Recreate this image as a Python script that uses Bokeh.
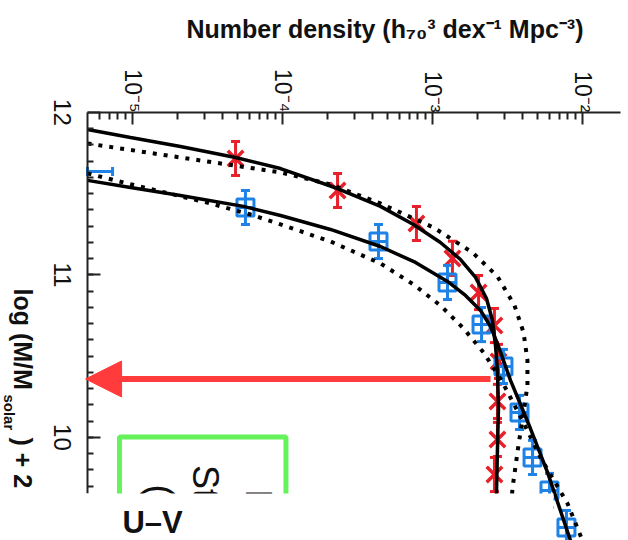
import math
import numpy as np
from bokeh.plotting import figure
from bokeh.models import (Range1d, FixedTicker, CustomJSTickFormatter, BoxAnnotation,
                          Label, Arrow, NormalHead)
from bokeh.embed import file_html
from bokeh.resources import INLINE

# ---------------- data (log10 number density, log stellar mass) ----------------
red_mass   = [11.717, 11.520, 11.317, 11.102, 10.892, 10.689, 10.468, 10.222, 9.988, 9.772]
red_logphi = [-4.313, -3.633, -3.107, -2.867, -2.693, -2.587, -2.560, -2.567, -2.567, -2.587]
red_err    = [0.105, 0.105, 0.105, 0.105, 0.105, 0.105, 0.105, 0.105, 0.105, 0.105]

blue_mass   = [11.415, 11.206, 10.954, 10.695, 10.437, 10.154, 9.877, 9.674, 9.446]
blue_logphi = [-4.247, -3.360, -2.900, -2.673, -2.527, -2.420, -2.333, -2.220, -2.107]
blue_err    = [0.105, 0.105, 0.105, 0.105, 0.105, 0.105, 0.105, 0.105, 0.105]

# blue bin with only a horizontal (density) error bar visible at the left edge
blue_edge_mass = [11.637]
blue_edge_lo   = [-5.300]
blue_edge_hi   = [-5.133]

# fitted curves (solid)
red_fit_mass   = [11.895, 11.846, 11.791, 11.723, 11.655, 11.532, 11.422, 11.311, 11.200,
                  11.095, 10.985, 10.855, 10.720, 10.566, 10.412, 10.185, 9.920, 9.674, 9.335]
red_fit_logphi = [-5.300, -5.013, -4.680, -4.313, -4.013, -3.633, -3.347, -3.127, -2.947,
                  -2.813, -2.713, -2.640, -2.600, -2.580, -2.567, -2.560, -2.567, -2.573, -2.580]

blue_fit_mass   = [11.582, 11.538, 11.489, 11.422, 11.366, 11.280, 11.175, 11.077, 10.960,
                   10.874, 10.782, 10.683, 10.578, 10.474, 10.351, 10.203, 10.055, 9.785, 9.366]
blue_fit_logphi = [-5.300, -5.013, -4.680, -4.260, -4.013, -3.680, -3.347, -3.113, -2.900,
                   -2.780, -2.680, -2.613, -2.567, -2.527, -2.480, -2.413, -2.347, -2.233, -2.080]

# comparison curves (dotted)
red_dot_mass   = [11.809, 11.723, 11.631, 11.557, 11.440, 11.292, 11.138, 10.991, 10.812,
                  10.646, 10.474, 10.320, 10.154, 9.951, 9.686, 9.335]
red_dot_logphi = [-5.300, -4.680, -4.013, -3.680, -3.347, -2.993, -2.733, -2.567, -2.453,
                  -2.393, -2.367, -2.367, -2.393, -2.427, -2.467, -2.493]

blue_dot_mass   = [11.625, 11.563, 11.514, 11.440, 11.372, 11.311, 11.206, 11.071, 10.942,
                   10.812, 10.671, 10.523, 10.363, 10.117, 9.877, 9.594, 9.366]
blue_dot_logphi = [-5.300, -5.033, -4.813, -4.480, -4.213, -4.013, -3.680, -3.347, -3.127,
                   -2.947, -2.793, -2.660, -2.547, -2.407, -2.280, -2.100, -2.000]

x_ticks = [1e-5, 1e-4, 1e-3, 1e-2]
y_ticks = [10, 11, 12]
y_tick_labels = ["10", "11", "12"]

RED = "#e8202a"
BLUE = "#1e82e6"
ARROW_RED = "#ff3b3b"
GREEN = "#66f25a"
INK = "#111111"

def dens(a):
    return np.power(10.0, np.asarray(a, dtype=float))

X_LO, X_HI = 10 ** -5.30, 10 ** -1.747   # extent of the top axis
Y_LO, Y_HI = 9.655, 12.0                 # extent of the left axis

# frame fills the page; axes are pinned at fixed data locations
p = figure(width=628, height=540, x_axis_type="log", x_axis_location="above",
           x_range=Range1d(10 ** -5.88, 10 ** -1.6933), y_range=Range1d(9.366, 12.689),
           output_backend="svg", toolbar_location=None,
           min_border_left=0, min_border_right=0, min_border_top=0, min_border_bottom=0)
p.outline_line_color = None
p.xgrid.visible = False
p.ygrid.visible = False
p.background_fill_color = "white"
p.border_fill_color = "white"

# ---- axes ----
xa = p.xaxis[0]
xa.fixed_location = Y_HI
xa.bounds = (X_LO, X_HI)
minor_x = [k * 10.0 ** e for e in range(-6, -1) for k in range(2, 10)]
minor_x = [v for v in minor_x if X_LO <= v <= X_HI]
xa.ticker = FixedTicker(ticks=x_ticks, minor_ticks=minor_x)
xa.formatter = CustomJSTickFormatter(code=r"""
const e = Math.round(Math.log10(tick));
const m = {"-": "\u207b", "0": "\u2070", "1": "\u00b9", "2": "\u00b2", "3": "\u00b3",
           "4": "\u2074", "5": "\u2075", "6": "\u2076", "7": "\u2077", "8": "\u2078", "9": "\u2079"};
let s = "";
for (const c of String(e)) { s += m[c]; }
return "10" + s;
""")
xa.major_label_orientation = -math.pi / 2
xa.major_tick_in = 12
xa.major_tick_out = 0
xa.minor_tick_in = 7
xa.minor_tick_out = 0
xa.major_label_standoff = 0
xa.major_label_text_font = "Liberation Sans"
xa.major_label_text_font_size = "23px"
xa.major_label_text_color = INK

ya = p.yaxis[0]
ya.fixed_location = X_LO
ya.bounds = (Y_LO, Y_HI)
ya.ticker = FixedTicker(ticks=y_ticks, minor_ticks=[round(9.7 + 0.1 * i, 1) for i in range(23)])
# the rotated tick labels are drawn below as labels centred on their ticks
ya.major_label_overrides = {t: "" for t in y_ticks}
ya.major_tick_in = 13
ya.major_tick_out = 0
ya.minor_tick_in = 6
ya.minor_tick_out = 0

for ax in (xa, ya):
    ax.axis_line_width = 2
    ax.axis_line_color = "#222222"
    ax.major_tick_line_width = 2
    ax.minor_tick_line_width = 2
    ax.major_tick_line_color = "#222222"
    ax.minor_tick_line_color = "#222222"

for t, s in zip(y_ticks, y_tick_labels):
    p.add_layout(Label(x=10 ** -5.469, y=t, text=s, angle=-math.pi / 2,
                       text_font="Liberation Sans", text_font_size="24px",
                       text_color=INK, text_align="center", text_baseline="alphabetic"))

# ---- data points ----
rx = dens(red_logphi)
rm = np.asarray(red_mass)
re = np.asarray(red_err)
p.segment(x0=rx, y0=rm - re, x1=rx, y1=rm + re, line_color=RED, line_width=3)
p.scatter(rx, rm - re, marker="dash", size=9, line_color=RED, line_width=3)
p.scatter(rx, rm + re, marker="dash", size=9, line_color=RED, line_width=3)
p.scatter(rx, rm, marker="x", size=22, line_color=RED, line_width=3.5)

bx = dens(blue_logphi)
bm = np.asarray(blue_mass)
be = np.asarray(blue_err)
p.segment(x0=bx, y0=bm - be, x1=bx, y1=bm + be, line_color=BLUE, line_width=3)
p.scatter(bx, bm - be, marker="dash", size=9, line_color=BLUE, line_width=3)
p.scatter(bx, bm + be, marker="dash", size=9, line_color=BLUE, line_width=3)
p.scatter(bx, bm, marker="square_cross", size=17, line_color=BLUE, line_width=3,
          fill_color=None)

p.segment(x0=dens(blue_edge_lo), y0=blue_edge_mass, x1=dens(blue_edge_hi), y1=blue_edge_mass,
          line_color=BLUE, line_width=3)
p.scatter(dens(blue_edge_hi), blue_edge_mass, marker="dash", angle=math.pi / 2, size=9,
          line_color=BLUE, line_width=3)
p.scatter(dens(blue_edge_lo), blue_edge_mass, marker="dash", angle=math.pi / 2, size=9,
          line_color=BLUE, line_width=3)

# ---- curves ----
p.line(dens(red_dot_logphi), red_dot_mass, line_color="black", line_width=4, line_dash="4 7")
p.line(dens(blue_dot_logphi), blue_dot_mass, line_color="black", line_width=4, line_dash="4 7")
p.line(dens(red_fit_logphi), red_fit_mass, line_color="black", line_width=3.5)
p.line(dens(blue_fit_logphi), blue_fit_mass, line_color="black", line_width=3.5)

# ---- green box with (mostly hidden) rotated text ----
p.add_layout(BoxAnnotation(left=10 ** -5.087, right=10 ** -3.977, top=10.003, bottom=9.0,
                           fill_alpha=0, line_color=GREEN, line_alpha=1.0, line_width=5))
for txt, lx, my in [("R", -4.160, 9.680),
                    ("St", -4.513, 9.830),
                    ("(S", -4.813, 9.710)]:
    p.add_layout(Label(x=10 ** lx, y=my, text=txt, angle=-math.pi / 2,
                       text_font="Liberation Sans", text_font_size="36px",
                       text_color=INK, text_align="left", text_baseline="alphabetic"))

# ---- red arrow ----
p.add_layout(Arrow(x_start=10 ** -2.613, y_start=10.36, x_end=10 ** -5.313, y_end=10.36,
                   line_color=ARROW_RED, line_width=6,
                   end=NormalHead(size=36, fill_color=ARROW_RED, line_color=ARROW_RED,
                                  line_width=1)))

# ---- white cover at the bottom ----
p.add_layout(BoxAnnotation(left=10 ** -6.0, right=10 ** -2.193, top=Y_LO, bottom=9.2,
                           fill_color="white", fill_alpha=1.0, line_color=None))

p.add_layout(Label(x=10 ** -5.067, y=9.477, text="U\u2013V", text_font="Liberation Sans",
                   text_font_size="31px", text_font_style="bold", text_color=INK,
                   text_align="left", text_baseline="alphabetic"))

# ---- titles ----
p.add_layout(Label(x=10 ** -4.64, y=12.515,
                   text="Number density (h\u2087\u2080\u00b3 dex\u207b\u00b9 Mpc\u207b\u00b3)",
                   text_font="Liberation Sans", text_font_size="25px", text_font_style="bold",
                   text_color=INK, text_align="left", text_baseline="alphabetic"))

p.add_layout(Label(x=10 ** -5.733, y=10.917, text="log (M/M", angle=-math.pi / 2,
                   text_font="Liberation Sans", text_font_size="25px", text_font_style="bold",
                   text_color=INK, text_align="left", text_baseline="alphabetic"))
p.add_layout(Label(x=10 ** -5.817, y=10.265, text="solar", angle=-math.pi / 2,
                   text_font="Liberation Sans", text_font_size="15px", text_font_style="bold",
                   text_color=INK, text_align="left", text_baseline="alphabetic"))
p.add_layout(Label(x=10 ** -5.733, y=10.000, text=") + 2", angle=-math.pi / 2,
                   text_font="Liberation Sans", text_font_size="25px", text_font_style="bold",
                   text_color=INK, text_align="left", text_baseline="alphabetic"))

open("out.html", "w").write(file_html(p, INLINE))
